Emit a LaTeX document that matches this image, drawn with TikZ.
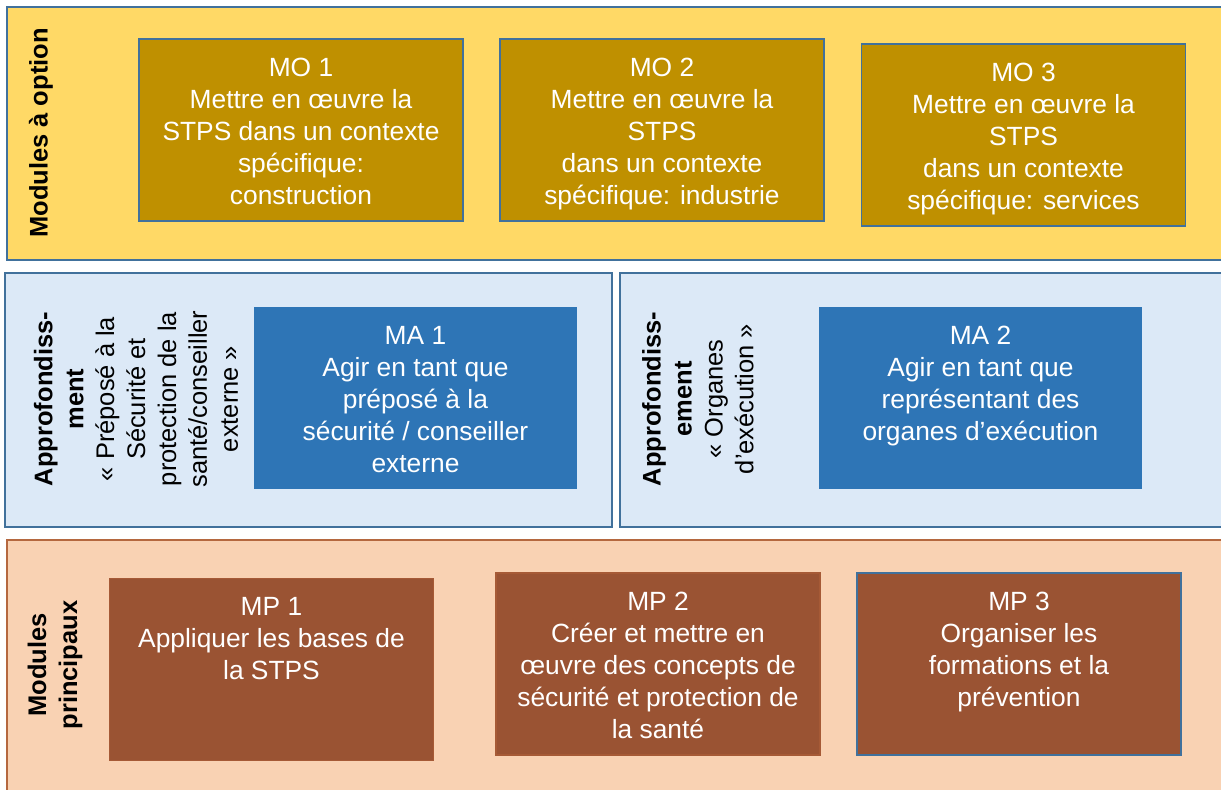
\documentclass[tikz,border=0pt]{standalone}
\usepackage{fontspec}
\setmainfont{Liberation Sans}

\definecolor{optband}{HTML}{FFD966}
\definecolor{mofill}{HTML}{BF9000}
\definecolor{boxline}{HTML}{41719C}
\definecolor{advband}{HTML}{DCE9F7}
\definecolor{mafill}{HTML}{2E75B6}
\definecolor{mainband}{HTML}{F9D2B3}
\definecolor{mainline}{HTML}{B5683F}
\definecolor{mpfill}{HTML}{9A5333}
\definecolor{mpline}{HTML}{A65A36}

\newcommand{\modtext}[1]{\parbox[c][2.88cm][t]{6.4cm}{\centering\fontsize{15}{18.2}\selectfont #1}}

\begin{document}
\begin{tikzpicture}[x=0.02cm,y=-0.02cm,
	font=\fontsize{14.5}{17.6}\selectfont,
	band/.style={line width=1.2pt},
	modbox/.style={minimum width=6.48cm, minimum height=3.64cm, inner xsep=0pt, inner ysep=0.38cm, text=white, line width=1pt},
	mobox/.style={modbox, fill=mofill, draw=boxline},
	mabox/.style={modbox, fill=mafill},
	mpbox/.style={modbox, fill=mpfill, draw=mpline},
	sidelabel/.style={rotate=90, align=center, inner sep=0pt}]
	\useasboundingbox (0,0) rectangle (1221,789);
	\filldraw[band, fill=optband, draw=boxline] (7,7) rectangle (1226,260);
	\filldraw[band, fill=advband, draw=boxline] (5,273) rectangle (612,527);
	\filldraw[band, fill=advband, draw=boxline] (620,273) rectangle (1226,527);
	\filldraw[band, fill=mainband, draw=mainline] (7,540) rectangle (1226,796);

	\node (optlabel) at (41,133) [sidelabel, font=\fontsize{14.5}{17.6}\selectfont\bfseries] {Modules à option};
	\node (mo1) at (301,130) [mobox] {\modtext{MO 1\\Mettre en œuvre la\\STPS dans un contexte\\spécifique:\\construction}};
	\node (mo2) at (662,130) [mobox] {\modtext{MO 2\\Mettre en œuvre la\\STPS\\dans un contexte\\spécifique: industrie}};
	\node (mo3) at (1023.5,135) [mobox] {\modtext{MO 3\\Mettre en œuvre la\\STPS\\dans un contexte\\spécifique: services}};

	\node (ma1label) at (136,399) [sidelabel] {\textbf{Approfondiss-}\\\textbf{ment}\\« Préposé à la\\Sécurité et\\protection de la\\santé/conseiller\\externe »};
	\node (ma1) at (415.5,398) [mabox] {\modtext{MA 1\\Agir en tant que\\préposé à la\\sécurité / conseiller\\externe}};
	\node (ma2label) at (698,399) [sidelabel] {\textbf{Approfondiss-}\\\textbf{ement}\\« Organes\\d'exécution »};
	\node (ma2) at (980.5,398) [mabox] {\modtext{MA 2\\Agir en tant que\\représentant des\\organes d’exécution}};

	\node (mplabel) at (55,665) [sidelabel, font=\fontsize{14.5}{17.6}\selectfont\bfseries] {Modules\\principaux};
	\node (mp1) at (271.5,669.5) [mpbox] {\modtext{MP 1\\Appliquer les bases de\\la STPS}};
	\node (mp2) at (658,664) [mpbox] {\modtext{MP 2\\Créer et mettre en\\œuvre des concepts de\\sécurité et protection de\\la santé}};
	\node (mp3) at (1019,664) [mpbox, draw=boxline] {\modtext{MP 3\\Organiser les\\formations et la\\prévention}};
\end{tikzpicture}
\end{document}
